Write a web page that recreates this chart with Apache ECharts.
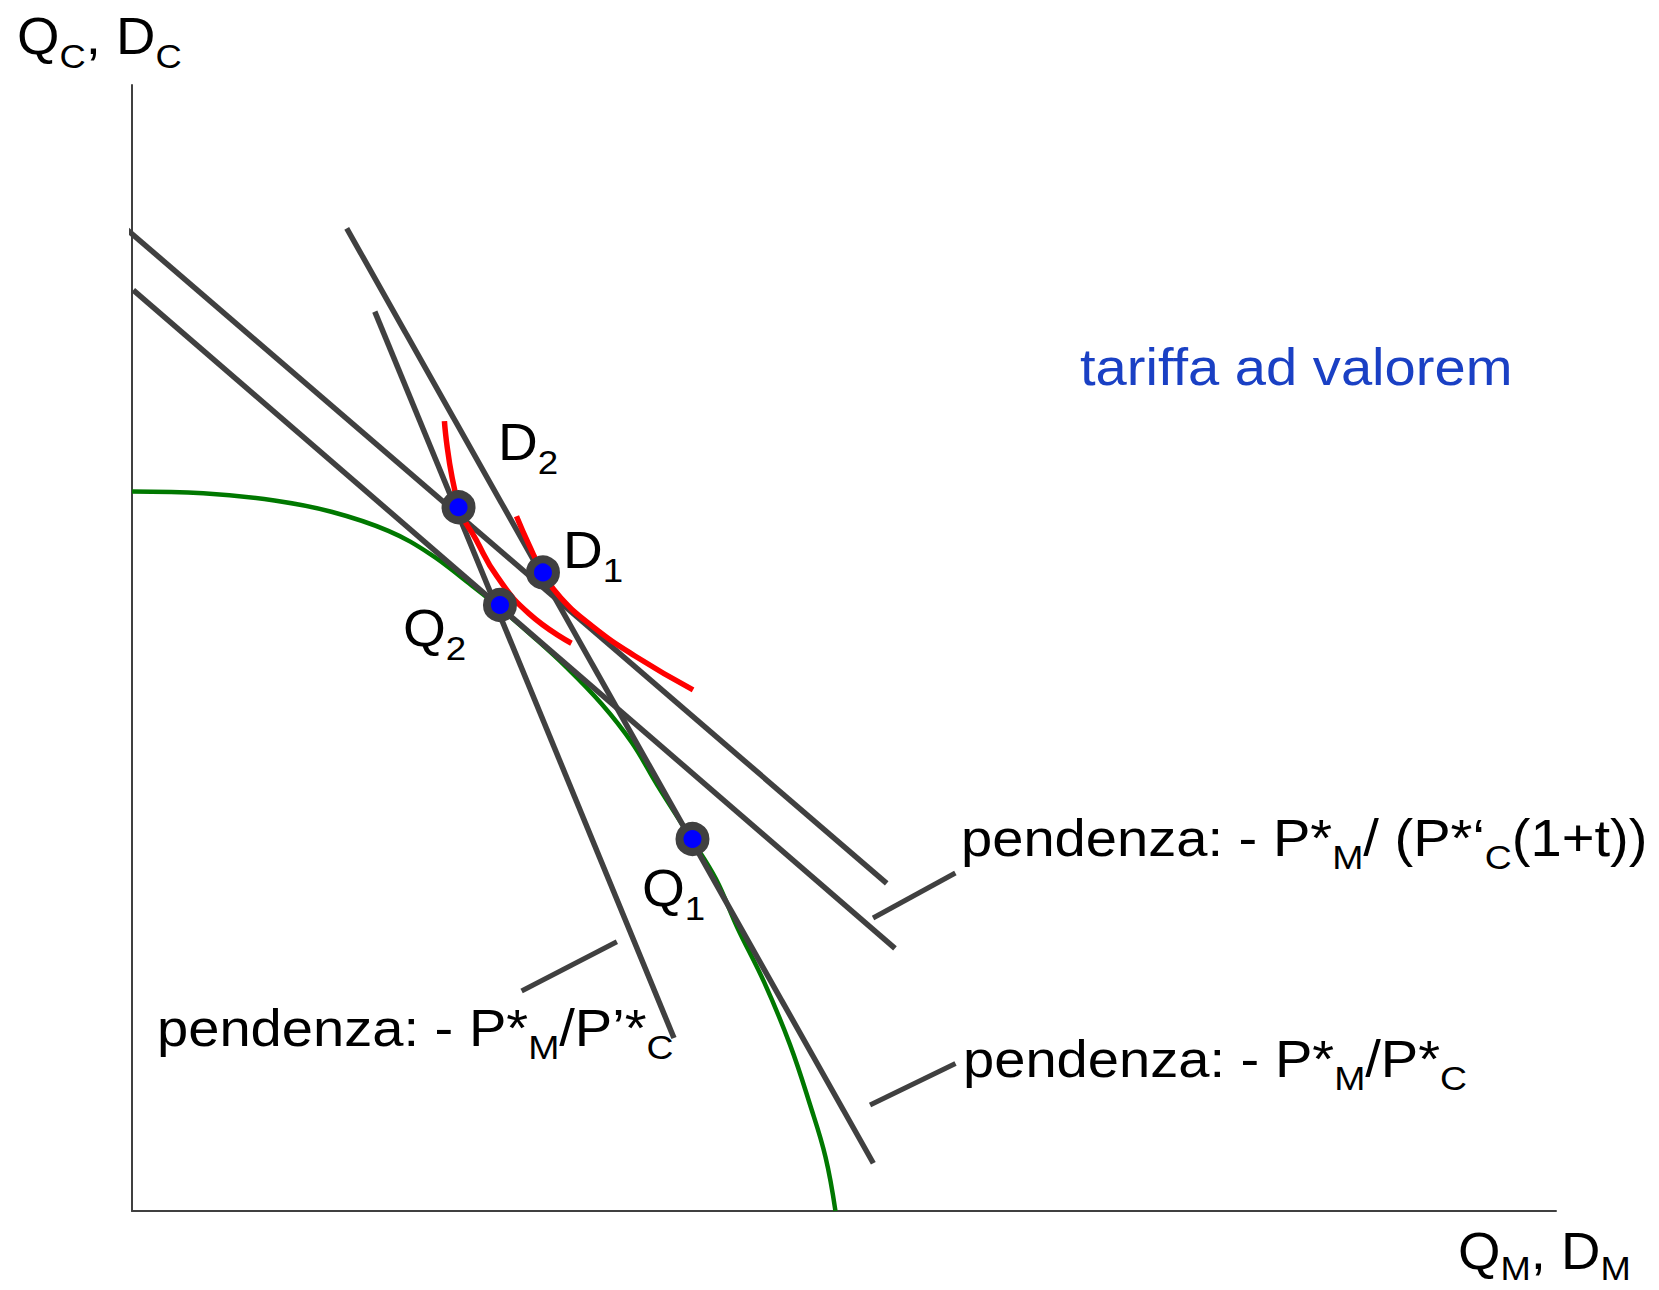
<!DOCTYPE html>
<html>
<head>
<meta charset="utf-8">
<script src="https://cdn.jsdelivr.net/npm/echarts@6/dist/echarts.min.js"></script>
<style>
html,body{margin:0;padding:0;background:#fff;}
#c{width:1659px;height:1290px;}
</style>
</head>
<body>
<div id="c"></div>
<script>
// ---- data (diagram units: x 0..100, y 0..100) ----
const lineA = [[-0.37, 87.18], [53.0, 29.1]];      // upper tariff-price line
const lineB = [[0.09, 81.79], [53.58, 23.33]];     // lower tariff-price line
const lineC = [[15.08, 87.27], [52.06, 4.24]];     // world price line through Q1
const lineD = [[17.05, 79.87], [38.06, 15.36]];    // domestic price line through Q2
const leaderUpper = [[52.04, 26.02], [57.82, 30.02]];
const leaderLower = [[51.83, 9.41], [57.83, 13.11]];
const leaderLeft = [[27.36, 19.54], [34.05, 23.92]];
const ppf = [[0, 63.9], [5, 63.75], [10, 63.1], [14, 62.1], [18, 60.4], [21, 58.3], [23.5, 55.9],
             [25.8, 53.6], [28, 51.2], [30.5, 48.3], [33, 45.0], [35.1, 41.6], [36.9, 37.8],
             [39.2, 33.2], [41, 29.5], [42.5, 25.2], [44.4, 20.3], [46.2, 14.8], [47.6, 9.5],
             [48.7, 4.8], [49.4, 0]];
const indiffD2 = [[21.94, 70.15], [22.91, 62.73], [24.16, 59.63], [25.65, 56.33], [27.88, 53.05], [30.86, 50.42]];
const indiffD1 = [[27.0, 61.7], [27.88, 59.16], [28.85, 56.71], [30.11, 54.46], [32.34, 51.92], [35.32, 49.29], [39.4, 46.28]];
const pointNames = ['D2', 'D1', 'Q2', 'Q1'];
const pointValues = [[22.93, 62.5], [28.86, 56.71], [25.84, 53.82], [39.36, 33.04]];

const texts = {
  yName: '{m|Q}{s|C}{m|, D}{s|C}',
  xName: '{m|Q}{s|M}{m|, D}{s|M}',
  D2: '{m|D}{s|2}', D1: '{m|D}{s|1}', Q2: '{m|Q}{s|2}', Q1: '{m|Q}{s|1}',
  title: 'tariffa ad valorem',
  upper: '{m|pendenza: - P*}{s|M}{m|/ (P*\u2018}{s|C}{m|(1+t))}',
  lowerRight: '{m|pendenza: - P*}{s|M}{m|/P*}{s|C}',
  left: '{m|pendenza: - P*}{s|M}{m|/P\u2019*}{s|C}'
};

// ---- styles ----
const FONT = 'Liberation Sans, Arial, sans-serif';
const GRAY = '#404040';
function makeRich(shift) {
  return {
    m: { fontSize: 51, fontFamily: FONT, fill: '#000' },
    s: { fontSize: 34, fontFamily: FONT, fill: '#000', padding: [shift, 0, 0, 0] }
  };
}
function label(str, x, y, sx, color, shift) {
  return {
    type: 'text', x: x, y: y, scaleX: sx || 1.08, z: 100,
    style: { text: str, rich: makeRich(shift || 40), fontSize: 51, fontFamily: FONT, fill: color || '#000',
             textAlign: 'left', textVerticalAlign: 'middle' }
  };
}
function seg(data, color, width, z) {
  return { type: 'line', data: data, symbol: 'none', clip: false, z: z, silent: true,
           lineStyle: { color: color, width: width, cap: 'butt' }, animation: false };
}

const chart = echarts.init(document.getElementById('c'), null, { renderer: 'svg' });
chart.setOption({
  backgroundColor: '#fff',
  animation: false,
  grid: { left: 132, top: 85, right: 103, bottom: 79 },
  xAxis: { type: 'value', min: 0, max: 100, axisLine: { show: true, onZero: false, lineStyle: { color: GRAY, width: 2 } },
           axisTick: { show: false }, axisLabel: { show: false }, splitLine: { show: false } },
  yAxis: { type: 'value', min: 0, max: 100, axisLine: { show: true, onZero: false, lineStyle: { color: GRAY, width: 2 } },
           axisTick: { show: false }, axisLabel: { show: false }, splitLine: { show: false } },
  series: [
    Object.assign(seg(ppf, '#007800', 4.5, 1), { smooth: 0.4 }),
    seg(lineA, GRAY, 5.5, 2),
    seg(lineB, GRAY, 5.5, 2),
    seg(lineC, GRAY, 5.5, 2),
    seg(lineD, GRAY, 5.5, 2),
    seg(leaderUpper, GRAY, 5, 2),
    seg(leaderLower, GRAY, 5, 2),
    seg(leaderLeft, GRAY, 5, 2),
    Object.assign(seg(indiffD2, '#ff0000', 5.5, 3), { smooth: true }),
    Object.assign(seg(indiffD1, '#ff0000', 5.5, 3), { smooth: true }),
    { type: 'scatter', z: 4, silent: true, animation: false,
      data: pointNames.map((n, i) => ({ name: n, value: pointValues[i] })),
      symbolSize: 26,
      itemStyle: { color: '#0000ff', borderColor: GRAY, borderWidth: 8, opacity: 1 } }
  ],
  graphic: [
    label(texts.yName, 17, 36, 1.07),
    label(texts.xName, 1458, 1251, 1.07, '#000', 34),
    label(texts.title, 1080, 367, 1.1, '#1a40c4'),
    label(texts.D2, 498, 442),
    label(texts.D1, 563, 550),
    label(texts.Q2, 403, 628),
    label(texts.Q1, 642, 888),
    label(texts.upper, 961, 838, 1.1),
    label(texts.lowerRight, 963, 1059, 1.1),
    label(texts.left, 157, 1028, 1.1)
  ]
});
</script>
</body>
</html>
